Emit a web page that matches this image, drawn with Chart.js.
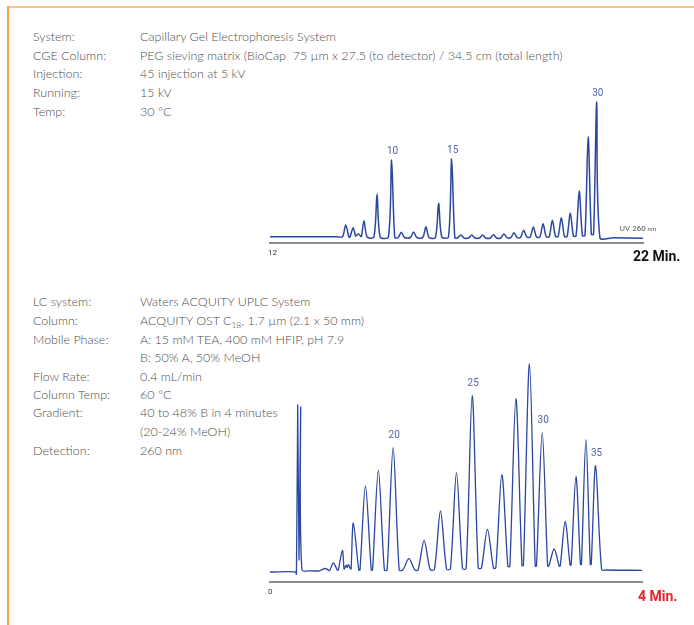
<!DOCTYPE html>
<html><head><meta charset="utf-8">
<script src="https://cdn.jsdelivr.net/npm/chart.js@4.4.1/dist/chart.umd.min.js"></script>
<style>
html,body{margin:0;padding:0;background:#fff;}
#page{position:relative;width:694px;height:625px;overflow:hidden;font-family:Lato,"Open Sans",sans-serif;}
.frameTop{position:absolute;left:8px;top:6px;width:686px;height:2px;background:#fcc585;}
.frameLeft{position:absolute;left:7px;top:6px;width:2px;height:619px;background:#f8a53f;}
.row{position:absolute;left:33px;font-size:12.5px;color:#4e4e4e;white-space:pre;line-height:16px;font-weight:300;}
.row .v{position:absolute;left:107px;top:0;}
.row sub{font-size:8.5px;vertical-align:-3px;line-height:0;}
canvas{position:absolute;left:0;}
</style></head>
<body><div id="page">
<div class="frameTop"></div><div class="frameLeft"></div>
<div class="row" style="top:29px">System:<span class="v">Capillary Gel Electrophoresis System</span></div>
<div class="row" style="top:48px">CGE Column:<span class="v">PEG sieving matrix (BioCap  75 µm x 27.5 (to detector) / 34.5 cm (total length)</span></div>
<div class="row" style="top:66px">Injection:<span class="v">45 injection at 5 kV</span></div>
<div class="row" style="top:85px">Running:<span class="v">15 kV</span></div>
<div class="row" style="top:104px">Temp:<span class="v">30 °C</span></div>

<div class="row" style="top:294px">LC system:<span class="v">Waters ACQUITY UPLC System</span></div>
<div class="row" style="top:313px">Column:<span class="v">ACQUITY OST C<sub>18</sub>, 1.7 µm (2.1 x 50 mm)</span></div>
<div class="row" style="top:332px">Mobile Phase:<span class="v">A: 15 mM TEA, 400 mM HFIP, pH 7.9</span></div>
<div class="row" style="top:350px"><span class="v">B: 50% A, 50% MeOH</span></div>
<div class="row" style="top:369px">Flow Rate:<span class="v">0.4 mL/min</span></div>
<div class="row" style="top:387px">Column Temp:<span class="v">60 °C</span></div>
<div class="row" style="top:405px">Gradient:<span class="v">40 to 48% B in 4 minutes</span></div>
<div class="row" style="top:424px"><span class="v">(20-24% MeOH)</span></div>
<div class="row" style="top:443px">Detection:<span class="v">260 nm</span></div>

<canvas id="cge" width="694" height="270" style="top:0"></canvas>
<canvas id="lc" width="694" height="355" style="top:270px"></canvas>
</div>
<script>
// ---------- CGE chromatogram (minutes 12-22) ----------
const cgeRange = [12, 22];
const cgeAxisLabels = ['12', '22 Min.'];
const cgePeakTimes = [14.03, 14.23, 14.37, 14.52, 14.87, 15.26, 15.52, 15.85, 16.18, 16.52, 16.87,
  17.12, 17.41, 17.70, 17.99, 18.27, 18.54, 18.80, 19.06, 19.32, 19.57, 19.81, 20.05, 20.29, 20.53, 20.76];
const cgePeakHeights = [12, 9.3, 3, 16.3, 43, 77, 4.7, 5, 10.3, 33.7, 78,
  2, 2, 2, 2.3, 3, 4.3, 6.7, 10, 13.3, 16.7, 19.3, 24, 46, 100, 135];
const cgeValleys = [0.3, 0, 1, 0.5, 0, 0, -0.5, -0.5, -0.5, -0.5, 0,
  -0.7, -1, -1, -1, -1, -0.7, -0.5, 0, 0, 0.3, 0.5, 0.5, 1, 1.5, 2.7, -0.7];
const cgeLead = [[12, 0.3], [13.8, 0.3]];
const cgeTail = [[21.2, -0.8], [22, -1.3]];
const cgeLabelIdx = [5, 10, 25];
const cgeLabelText = ['10', '15', '30'];

// ---------- IP-RP UPLC chromatogram (minutes 0-4) ----------
const lcRange = [0, 4];
const lcAxisLabels = ['0', '4 Min.'];
const lcLead = [[0, 0], [0.27, 0.2], [0.284, -2.3], [0.298, 167], [0.312, 12], [0.330, 165], [0.343, 2.5], [0.45, 1.2]];
const lcPeakTimes = [0.595, 0.681, 0.778, 0.818, 0.843, 0.896, 1.026, 1.165, 1.324, 1.493, 1.657, 1.833,
  2.005, 2.174, 2.338, 2.493, 2.644, 2.790, 2.927, 3.056, 3.174, 3.290, 3.397, 3.501];
const lcPeakHeights = [3.5, 9, 21.7, 6.7, 7.4, 49, 86, 101.7, 124.3, 13.3, 31.7, 61,
  99.3, 176.7, 42.7, 97.3, 173.3, 208.3, 139.3, 23, 50.7, 95.3, 132.3, 106.3];
const lcValleys = [1.2, 1.5, 1.8, 3, 4.5, 3, 2, 2, 2, 2, 2, 2.5, 3, 3.5, 4, 4, 5.5, 6.5, 6, 6, 6, 7, 7.5, 7.5, 2.5];
const lcTail = [[3.62, 2], [4, 1.7]];
const lcLabelIdx = [8, 13, 18, 23];
const lcLabelText = ['20', '25', '30', '35'];

function buildTrace(lead, times, heights, valleys, hw, tail) {
  const pts = lead.map(p => ({x: p[0], y: p[1]}));
  for (let i = 0; i < times.length; i++) {
    const prev = i > 0 ? times[i - 1] : -Infinity;
    const next = i < times.length - 1 ? times[i + 1] : Infinity;
    const wl = Math.min(hw, (times[i] - prev) * 0.45);
    const wr = Math.min(hw, (next - times[i]) * 0.45);
    pts.push({x: times[i] - wl, y: valleys[i]});
    pts.push({x: times[i], y: heights[i]});
    pts.push({x: times[i] + wr, y: valleys[i + 1]});
  }
  tail.forEach(p => pts.push({x: p[0], y: p[1]}));
  return pts;
}

const LINE = '#2c479f';
const LABEL = '#5563ad';

function makeChart(id, cfg) {
  const annot = {
    id: 'annot' + id,
    afterDatasetsDraw(chart) {
      const c = chart.ctx, xs = chart.scales.x, ys = chart.scales.y;
      c.save();
      c.fillStyle = LABEL;
      c.font = '10px Roboto, sans-serif';
      c.textAlign = 'center';
      c.textBaseline = 'middle';
      cfg.labelIdx.forEach((idx, k) => {
        const x = xs.getPixelForValue(cfg.times[idx]) + cfg.labelDx;
        const y = ys.getPixelForValue(cfg.heights[idx]) - cfg.labelDy;
        c.fillText(cfg.labelText[k], x, y);
      });
      const bottom = chart.chartArea.bottom;
      c.textAlign = 'left';
      c.fillStyle = '#333';
      c.font = '8px Roboto, sans-serif';
      c.fillText(cfg.axisLabels[0], xs.getPixelForValue(cfg.range[0]) - 2, bottom + cfg.minDy);
      c.fillStyle = cfg.endColor;
      c.font = 'bold 14px Roboto, sans-serif';
      c.fillText(cfg.axisLabels[1], xs.getPixelForValue(cfg.range[1]) - cfg.endDx, bottom + cfg.endDy);
      if (cfg.uv) {
        c.fillStyle = '#555';
        c.font = '8px Roboto, sans-serif';
        const ux = xs.getPixelForValue(cfg.uv);
        c.fillText('UV 260', ux, ys.getPixelForValue(0) - 8);
        const w = c.measureText('UV 260 ').width;
        c.font = '6px Roboto, sans-serif';
        c.fillText('nm', ux + w, ys.getPixelForValue(0) - 8);
      }
      c.restore();
    }
  };
  return new Chart(document.getElementById(id), {
    type: 'line',
    data: {datasets: [{
      data: buildTrace(cfg.lead, cfg.times, cfg.heights, cfg.valleys, cfg.hw, cfg.tail),
      borderColor: LINE, borderWidth: cfg.lw, pointRadius: 0, fill: false,
      tension: cfg.tension, clip: false
    }]},
    options: {
      responsive: false, animation: false, devicePixelRatio: 1,
      layout: {padding: cfg.padding},
      plugins: {legend: {display: false}, tooltip: {enabled: false}},
      scales: {
        x: {type: 'linear', min: cfg.range[0], max: cfg.range[1],
            grid: {display: false, drawTicks: false},
            ticks: {display: false},
            border: {display: true, color: '#8c8c8c', width: 2}},
        y: {display: false, min: cfg.yRange[0], max: cfg.yRange[1]}
      }
    },
    plugins: [annot]
  });
}

makeChart('cge', {
  lead: cgeLead, times: cgePeakTimes, heights: cgePeakHeights, valleys: cgeValleys, tail: cgeTail,
  hw: 0.085, lw: 1.5, tension: 0.3, range: cgeRange, yRange: [-6, 147],
  padding: {left: 270, right: 51, top: 90, bottom: 27},
  labelIdx: cgeLabelIdx, labelText: cgeLabelText, labelDx: 1, labelDy: 9,
  axisLabels: cgeAxisLabels, minDy: 10, endDx: 10, endDy: 14, endColor: '#111', uv: 21.38
});
makeChart('lc', {
  lead: lcLead, times: lcPeakTimes, heights: lcPeakHeights, valleys: lcValleys, tail: lcTail,
  hw: 0.065, lw: 1.3, tension: 0.3, range: lcRange, yRange: [-10, 209],
  padding: {left: 270, right: 52, top: 93, bottom: 43},
  labelIdx: lcLabelIdx, labelText: lcLabelText, labelDx: 1, labelDy: 12,
  axisLabels: lcAxisLabels, minDy: 10, endDx: 4, endDy: 15, endColor: '#e8202a', uv: null
});
</script>
</body></html>
